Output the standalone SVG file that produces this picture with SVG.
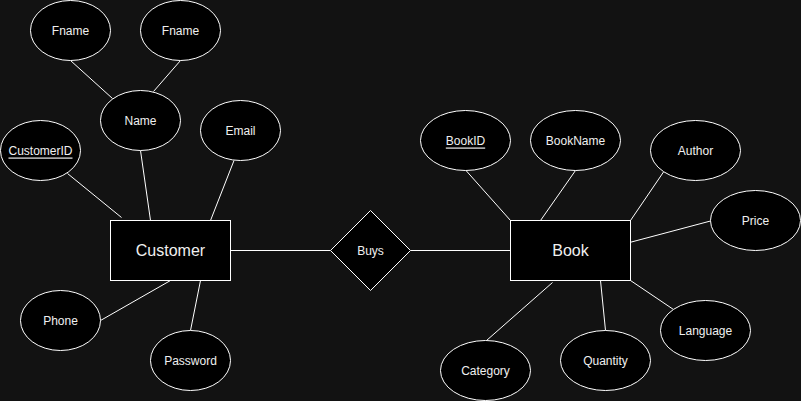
<svg xmlns="http://www.w3.org/2000/svg" width="801" height="401" viewBox="0 0 801 401">
<style>
.s{fill:#000;stroke:#fff;stroke-width:1}
.t{font-family:"Liberation Sans",Arial,sans-serif;font-size:12px;fill:#f0f0f0;text-anchor:middle;dominant-baseline:central}
.e{font-size:16px}
.u{text-decoration:underline}
#edges line{stroke:#fff;stroke-width:1}
</style>
<rect width="801" height="401" fill="#121212"/>
<g transform="translate(0.5,0.5)">
<g id="edges">
<line x1="70" y1="60" x2="112" y2="98"/>
<line x1="180" y1="60" x2="153" y2="91"/>
<line x1="140" y1="150" x2="150" y2="220"/>
<line x1="233.5" y1="160" x2="210" y2="220"/>
<line x1="67" y1="173" x2="121" y2="217"/>
<line x1="100" y1="320" x2="170" y2="280"/>
<line x1="190" y1="330" x2="200" y2="280"/>
<line x1="230" y1="250" x2="330" y2="250"/>
<line x1="410" y1="250" x2="510" y2="250"/>
<line x1="465.5" y1="170" x2="510" y2="220"/>
<line x1="575" y1="170" x2="540" y2="220"/>
<line x1="663" y1="171.5" x2="630" y2="220"/>
<line x1="710" y1="220.5" x2="629" y2="242"/>
<line x1="673" y1="309" x2="630" y2="280"/>
<line x1="605" y1="330" x2="600" y2="280"/>
<line x1="486" y1="340" x2="552" y2="282"/>
</g>
<g id="fname1"><ellipse class="s" cx="70" cy="30" rx="40" ry="30"/><text class="t" x="70" y="30">Fname</text></g>
<g id="fname2"><ellipse class="s" cx="180" cy="30" rx="40" ry="30"/><text class="t" x="180" y="30">Fname</text></g>
<g id="name"><ellipse class="s" cx="140" cy="120" rx="40" ry="30"/><text class="t" x="140" y="120">Name</text></g>
<g id="email"><ellipse class="s" cx="240" cy="130" rx="40" ry="30"/><text class="t" x="240" y="130">Email</text></g>
<g id="customerid"><ellipse class="s" cx="40" cy="150" rx="40" ry="30"/><text class="t u" x="40" y="150">CustomerID</text></g>
<g id="customer"><rect class="s" x="110" y="220" width="120" height="60"/><text class="t e" x="170" y="250">Customer</text></g>
<g id="phone"><ellipse class="s" cx="60" cy="320" rx="40" ry="30"/><text class="t" x="60" y="320">Phone</text></g>
<g id="password"><ellipse class="s" cx="190" cy="360" rx="40" ry="30"/><text class="t" x="190" y="360">Password</text></g>
<g id="buys"><polygon class="s" points="370,210 410,250 370,290 330,250"/><text class="t" x="370" y="250">Buys</text></g>
<g id="book"><rect class="s" x="510" y="220" width="120" height="60"/><text class="t e" x="570" y="250">Book</text></g>
<g id="bookid"><ellipse class="s" cx="465" cy="140" rx="45" ry="30"/><text class="t u" x="465" y="140">BookID</text></g>
<g id="bookname"><ellipse class="s" cx="575" cy="140" rx="45" ry="30"/><text class="t" x="575" y="140">BookName</text></g>
<g id="author"><ellipse class="s" cx="695" cy="150" rx="45" ry="30"/><text class="t" x="695" y="150">Author</text></g>
<g id="price"><ellipse class="s" cx="755" cy="220" rx="45" ry="30"/><text class="t" x="755" y="220">Price</text></g>
<g id="language"><ellipse class="s" cx="705" cy="330" rx="45" ry="30"/><text class="t" x="705" y="330">Language</text></g>
<g id="quantity"><ellipse class="s" cx="605" cy="360" rx="45" ry="30"/><text class="t" x="605" y="360">Quantity</text></g>
<g id="category"><ellipse class="s" cx="485" cy="370" rx="45" ry="30"/><text class="t" x="485" y="370">Category</text></g>
</g>
</svg>
